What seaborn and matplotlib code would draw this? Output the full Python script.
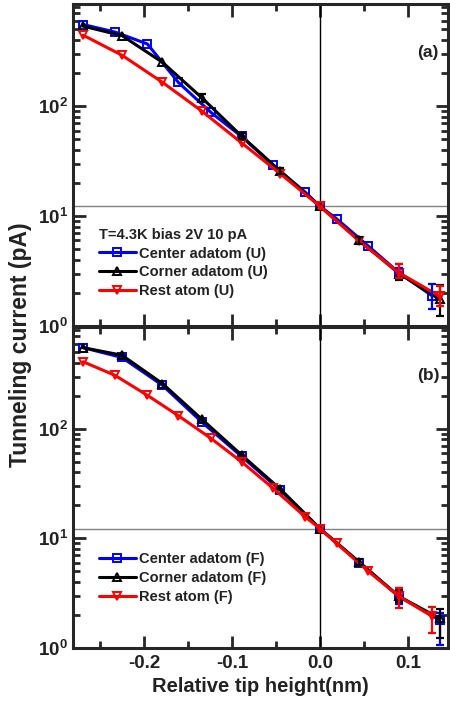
import numpy as np
import pandas as pd
import matplotlib
matplotlib.use("Agg")
import matplotlib.pyplot as plt
from matplotlib.ticker import FixedLocator, NullFormatter
import seaborn as sns

# ---------------- data ----------------
x_grid_a = [-0.269, -0.233, -0.196, -0.161, -0.124, -0.089, -0.053, -0.017, 0.0, 0.019, 0.055, 0.090, 0.128]
x_grid_b = [-0.269, -0.225, -0.179, -0.134, -0.089, -0.045, 0.0, 0.045, 0.090, 0.136]

# panel (a)
y_center_U = [553, 473, 368, 165, 88, 53, 28.9, 16.6, 12.3, 9.45, 5.34, 3.05, 1.87]
y_corner_U = [534, 439, 251, 119, 53.4, 25.7, 12.3, 6.0, 3.0, 1.75]
y_rest_U = [442, 291, 165, 90, 46.4, 24.3, 12.3, 5.9, 3.05, 1.87]

# panel (b)
y_center_F = [550, 448, 250, 115, 56, 27.5, 12.3, 6.0, 2.95, 1.8]
y_corner_F = [550, 470, 259, 122, 57.7, 28.2, 12.3, 6.06, 2.95, 1.87]
y_rest_F = [409, 308, 202, 132, 82, 50, 28.6, 15.8, 12.3, 9.0, 5.01, 2.95, 1.94]

# error bars: (x, low, high)
err_center_U = [(0.090, 2.7, 3.4), (0.128, 1.42, 2.39)]
err_corner_U = [(-0.134, 110, 128), (-0.089, 50, 57), (-0.045, 24.3, 27.2), (0.045, 5.6, 6.5),
                (0.090, 2.62, 3.68), (0.136, 1.23, 2.34)]
err_rest_U = [(0.090, 2.75, 3.64), (0.136, 1.52, 2.31)]

err_center_F = [(0.090, 2.5, 3.5), (0.136, 1.07, 2.08)]
err_corner_F = [(0.045, 5.7, 6.5), (0.090, 2.6, 3.4), (0.136, 1.23, 2.26)]
err_rest_F = [(0.090, 2.31, 3.53), (0.128, 1.36, 2.39)]

labels_a = ["Center adatom (U)", "Corner adatom (U)", "Rest atom (U)"]
labels_b = ["Center adatom (F)", "Corner adatom (F)", "Rest atom (F)"]
legend_title_a = "T=4.3K bias 2V 10 pA"
setpoint = 12.3

# ---------------- style ----------------
sns.set_style("ticks")
plt.rcParams.update({
    "font.family": ["Liberation Sans", "DejaVu Sans"],
    "font.weight": "bold",
    "axes.labelweight": "bold",
    "mathtext.fontset": "custom",
    "mathtext.rm": "Liberation Sans:bold",
    "mathtext.it": "Liberation Sans:bold:italic",
    "mathtext.bf": "Liberation Sans:bold",
    "mathtext.sf": "Liberation Sans:bold",
    "mathtext.default": "rm",
})

TXT = "#222222"
colors = ["#0000ff", "#000000", "#ff0000"]
markers = ["s", "^", "v"]

fig = plt.figure(figsize=(4.5, 7.05), dpi=100)
ax1 = fig.add_axes([0.162, 0.5376, 0.8333, 0.4567])
ax2 = fig.add_axes([0.162, 0.0809, 0.8333, 0.4553])


def draw_panel(ax, xs_list, ys_list, errs_list, labels, title, leg_y):
    ax.axvline(0.0, color="black", lw=1.0, zorder=1)
    ax.axhline(setpoint, color="#808080", lw=1.0, zorder=1)
    for xs, ys, errs, lab, c, m in zip(xs_list, ys_list, errs_list, labels, colors, markers):
        df = pd.DataFrame({"x": xs, "y": ys})
        sns.lineplot(data=df, x="x", y="y", ax=ax, color=c, marker=m, markersize=5.5,
                     markerfacecolor="none", markeredgecolor=c, markeredgewidth=1.4,
                     linewidth=2.2, label=lab, sort=False, errorbar=None, zorder=3)
        ex = [e[0] for e in errs]
        ey = [ys[xs.index(e[0])] for e in errs]
        lo = [ey[i] - errs[i][1] for i in range(len(errs))]
        hi = [errs[i][2] - ey[i] for i in range(len(errs))]
        ax.errorbar(ex, ey, yerr=[lo, hi], fmt="none", ecolor=c, elinewidth=1.6,
                    capsize=3, capthick=1.6, zorder=4)
    ax.set_yscale("log")
    ax.set_xlim(-0.2807, 0.1455)
    ax.set_ylim(1, 850)
    ax.xaxis.set_major_locator(FixedLocator([-0.2, -0.1, 0.0, 0.1]))
    ax.xaxis.set_minor_locator(FixedLocator([-0.25, -0.15, -0.05, 0.05]))
    ax.set_yticks([1, 10, 100])
    ax.set_yticklabels([r"$10^{0}$", r"$10^{1}$", r"$10^{2}$"])
    ax.yaxis.set_minor_formatter(NullFormatter())
    ax.tick_params(which="both", direction="in", top=True, right=True, width=2.0,
                   labelsize=13.5, labelcolor=TXT)
    ax.tick_params(which="major", length=9)
    ax.tick_params(which="minor", length=5)
    for s in ax.spines.values():
        s.set_linewidth(2.2)
    ax.set_xlabel("")
    ax.set_ylabel("")
    leg = ax.legend(loc="upper left", bbox_to_anchor=(0.07, leg_y), frameon=False,
                    fontsize=10.5, title=title, title_fontsize=10.5, handlelength=2.5,
                    handletextpad=0.2, labelspacing=0.33, borderpad=0, borderaxespad=0,
                    alignment="left")
    for t in leg.get_texts():
        t.set_color(TXT)
        t.set_fontweight("bold")
    if title:
        leg.get_title().set_color(TXT)
        leg.get_title().set_fontweight("bold")


draw_panel(ax1, [x_grid_a, x_grid_b, x_grid_b], [y_center_U, y_corner_U, y_rest_U],
           [err_center_U, err_corner_U, err_rest_U], labels_a, legend_title_a, 0.305)
draw_panel(ax2, [x_grid_b, x_grid_b, x_grid_a], [y_center_F, y_corner_F, y_rest_F],
           [err_center_F, err_corner_F, err_rest_F], labels_b, None, 0.298)

ax1.tick_params(labelbottom=False)
ax2.set_xticklabels(["-0.2", "-0.1", "0.0", "0.1"])
ax2.tick_params(axis="x", pad=5)
ax2.set_xlabel("Relative tip height(nm)", fontsize=14.5, color=TXT, labelpad=4)

ax1.text(0.947, 0.85, "(a)", transform=ax1.transAxes, ha="center", va="center",
         fontsize=12.5, color=TXT, fontweight="bold")
ax2.text(0.947, 0.85, "(b)", transform=ax2.transAxes, ha="center", va="center",
         fontsize=12.5, color=TXT, fontweight="bold")

fig.text(0.046, 0.511, "Tunneling current (pA)", rotation=90, ha="center", va="center",
         fontsize=16.5, color=TXT, fontweight="bold")

fig.savefig("out.png", dpi=100)
